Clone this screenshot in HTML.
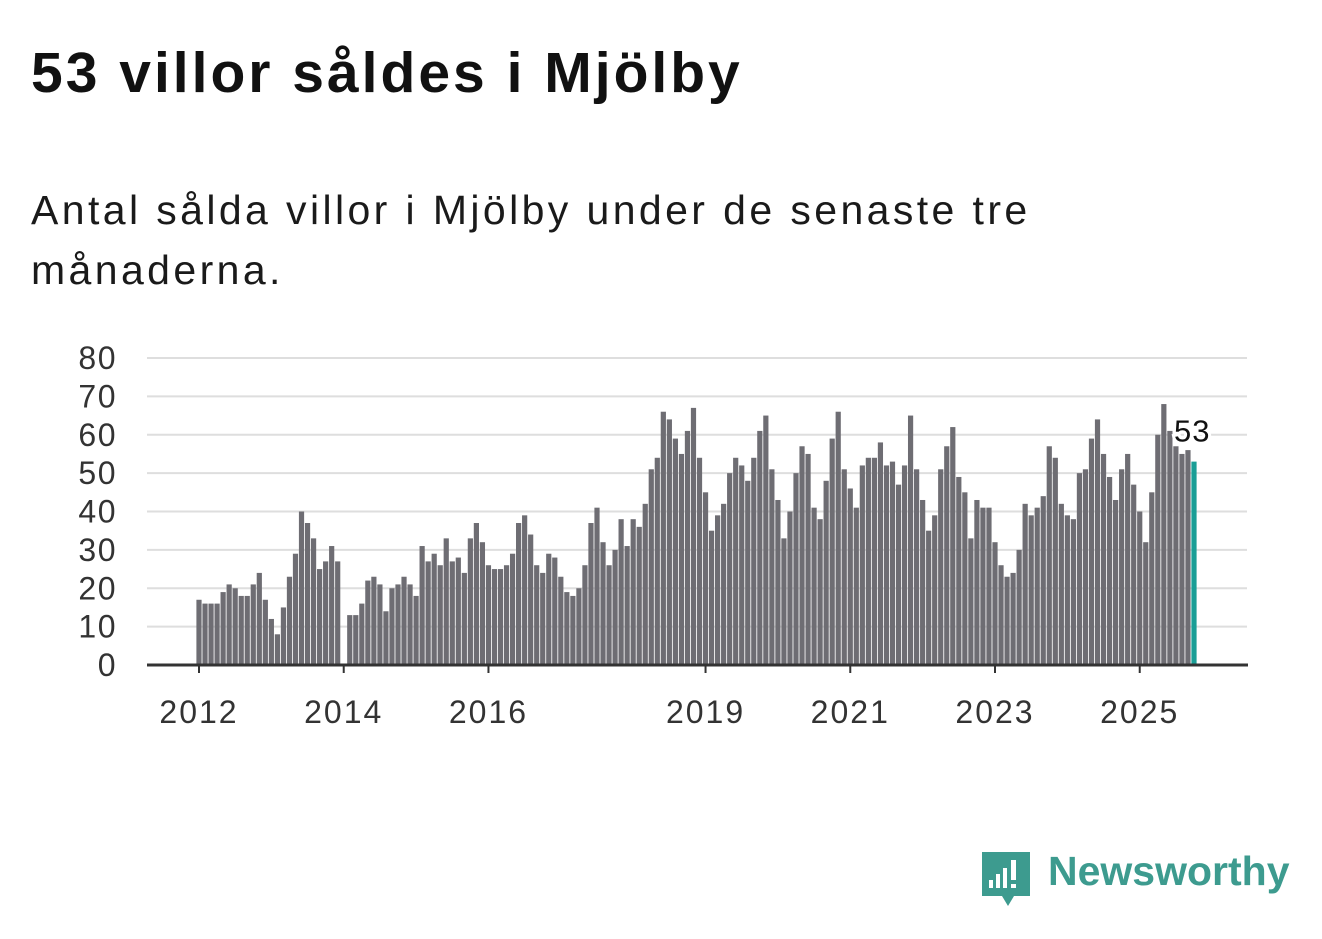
<!DOCTYPE html>
<html><head><meta charset="utf-8">
<style>
body{margin:0;background:#fff;width:1322px;height:939px;overflow:hidden;font-family:"Liberation Sans",sans-serif;}
h1{position:absolute;left:31px;top:40px;margin:0;font-size:57px;font-weight:bold;color:#111;letter-spacing:3px;}
.sub{position:absolute;left:31px;top:180px;margin:0;font-size:41px;line-height:60px;color:#1a1a1a;width:1040px;letter-spacing:3.4px;}
svg{position:absolute;left:0;top:0;}
.logo{position:absolute;left:1048px;top:848px;font-size:41px;color:#3d9b8f;font-weight:bold;}
</style></head><body>
<h1>53 villor såldes i Mjölby</h1>
<p class="sub">Antal sålda villor i Mjölby under de senaste tre månaderna.</p>
<svg id="chart" width="1322" height="939"></svg>
<svg width="1322" height="939" style="pointer-events:none">
<path d="M982 852 h48 v44 h-16 l-6 10 l-6 -10 h-20 z" fill="#3d9b8f"/>
<rect x="989" y="880" width="4" height="8" fill="#fff"/><rect x="996" y="874" width="4" height="14" fill="#fff"/><rect x="1003" y="868" width="4" height="20" fill="#fff"/><rect x="1011" y="860" width="5" height="20" fill="#fff"/><rect x="1011" y="884" width="5" height="4" fill="#fff"/>
</svg>
<div class="logo">Newsworthy</div>
<script>
const values=[17,16,16,16,19,21,20,18,18,21,24,17,
12,8,15,23,29,40,37,33,25,27,31,27,
0,13,13,16,22,23,21,14,20,21,23,21,
18,31,27,29,26,33,27,28,24,33,37,32,
26,25,25,26,29,37,39,34,26,24,29,28,
23,19,18,20,26,37,41,32,26,30,38,31,
38,36,42,51,54,66,64,59,55,61,67,54,
45,35,39,42,50,54,52,48,54,61,65,51,
43,33,40,50,57,55,41,38,48,59,66,51,
46,41,52,54,54,58,52,53,47,52,65,51,
43,35,39,51,57,62,49,45,33,43,41,41,
32,26,23,24,30,42,39,41,44,57,54,42,
39,38,50,51,59,64,55,49,43,51,55,47,40,
32,45,60,68,61,57,55,56,53];
const yTicks=[0,10,20,30,40,50,60,70,80];
const xTickLabels=["2012","2014","2016","2019","2021","2023","2025"];
const xTickIndex=[0,24,48,84,108,132,156];
const NS="http://www.w3.org/2000/svg";
const svg=document.getElementById('chart');
const x0=199,x1=1194,yB=665,yT=358;
const step=(x1-x0)/(values.length-1);
const xs=i=>x0+i*step;
const ys=v=>yB-(v/80)*(yB-yT);
function mk(t,a){const e=document.createElementNS(NS,t);for(const k in a)e.setAttribute(k,a[k]);svg.appendChild(e);return e;}
yTicks.forEach(v=>{
 if(v>0){const g=mk('line',{x1:147,x2:1247,y1:ys(v),y2:ys(v),stroke:'#dedede','stroke-width':2});
 
 }
 const t=mk('text',{x:117,y:ys(v)+11,'text-anchor':'end','font-size':32,'letter-spacing':1.5,fill:'#333','font-family':'Liberation Sans, sans-serif'});
 t.textContent=v;
 
 
});
values.forEach((v,i)=>{
 const last=i===values.length-1;
 const r=mk('rect',{x:xs(i)-2.6,y:ys(v),width:5.2,height:yB-ys(v),fill:last?'#1a9e96':'#6e6d73'});
 
 
});
const a=mk('line',{x1:147,x2:1248,y1:yB,y2:yB,stroke:'#333','stroke-width':3});


xTickLabels.forEach((l,k)=>{
 const x=xs(xTickIndex[k]);
 const tk=mk('line',{x1:x,x2:x,y1:yB,y2:yB+8,stroke:'#333','stroke-width':2});
 
 
 const t=mk('text',{x:x,y:723,'text-anchor':'middle','font-size':32,'letter-spacing':2,fill:'#333','font-family':'Liberation Sans, sans-serif'});
 t.textContent=l;
 
 
});
const lv=values[values.length-1];
const lb=mk('text',{x:xs(values.length-1)-20,y:ys(lv)-20,'font-size':31,'letter-spacing':1,fill:'#111',stroke:'#fff','stroke-width':6,'paint-order':'stroke','font-family':'Liberation Sans, sans-serif'});
lb.textContent=lv;


</script>
</body></html>
